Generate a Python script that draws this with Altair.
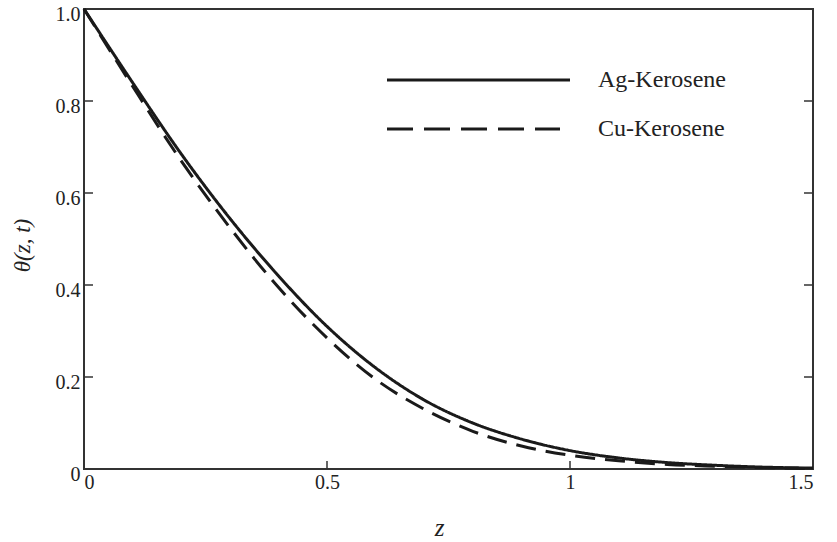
import altair as alt
import pandas as pd

# ---- data ----
z_vals = [0.0, 0.1, 0.2, 0.3, 0.4, 0.5, 0.6, 0.7, 0.8, 0.9, 1.0, 1.1, 1.2, 1.3, 1.4, 1.5]
ag_theta = [1.0, 0.84, 0.685, 0.545, 0.42, 0.31, 0.22, 0.15, 0.10, 0.065, 0.040, 0.024, 0.014, 0.008, 0.004, 0.002]
cu_theta = [1.0, 0.832, 0.67, 0.525, 0.395, 0.285, 0.195, 0.13, 0.082, 0.05, 0.030, 0.018, 0.010, 0.006, 0.003, 0.001]
series_names = ["Ag-Kerosene", "Cu-Kerosene"]
x_ticks = [0, 0.5, 1, 1.5]
y_ticks = [0, 0.2, 0.4, 0.6, 0.8, 1.0]
x_inner_ticks = [0.5, 1.0]
y_inner_ticks = [0.2, 0.4, 0.6, 0.8]

n = len(z_vals)
df = pd.DataFrame({
    "z": z_vals * 2,
    "theta": ag_theta + cu_theta,
    "series": [series_names[0]] * n + [series_names[1]] * n,
})

W, H = 729, 460
FONT = "Liberation Serif"
INK = "#1a1a1a"

xscale = alt.Scale(domain=[0, 1.5], nice=False, zero=False)
yscale = alt.Scale(domain=[0, 1.0], nice=False)

xaxis = alt.Axis(values=x_ticks, format="~g", title="z", labelFlush=True,
                 labelPadding=3, titleFontStyle="italic", titleFontSize=25,
                 titleX=355, titleY=58, titleBaseline="middle")
yaxis = alt.Axis(values=y_ticks,
                 labelExpr="datum.value == 0 ? '0' : format(datum.value, '.1f')",
                 title="θ(z, t)", labelPadding=4, labelOffset=5,
                 titleFontStyle="italic", titleFontSize=23,
                 titleX=-62, titleY=236, titleBaseline="middle", titleAngle=270)

lines = alt.Chart(df).mark_line(strokeWidth=3, color=INK, interpolate="monotone").encode(
    x=alt.X("z:Q", scale=xscale, axis=xaxis),
    y=alt.Y("theta:Q", scale=yscale, axis=yaxis),
    strokeDash=alt.StrokeDash("series:N",
                              scale=alt.Scale(domain=series_names, range=[[1, 0], [20, 10]]),
                              legend=None),
    detail="series:N",
)

# inward ticks (share the main scales and axes)
left_ticks = alt.Chart(pd.DataFrame({"theta": y_inner_ticks})).mark_rule(color="#333", strokeWidth=1.5).encode(
    y=alt.Y("theta:Q", scale=yscale, axis=yaxis), x=alt.value(0), x2=alt.value(9))
right_ticks = alt.Chart(pd.DataFrame({"theta": y_inner_ticks})).mark_rule(color="#333", strokeWidth=1.5).encode(
    y=alt.Y("theta:Q", scale=yscale, axis=yaxis), x=alt.value(W - 9), x2=alt.value(W))
bottom_ticks = alt.Chart(pd.DataFrame({"z": x_inner_ticks})).mark_rule(color="#333", strokeWidth=1.5).encode(
    x=alt.X("z:Q", scale=xscale, axis=xaxis), y=alt.value(H - 8), y2=alt.value(H))

# manual legend
leg_layers = []
leg_rows = [(series_names[0], [1, 0], 71, 486), (series_names[1], [26, 11], 120, 476)]
for name, dash, ypos, x2 in leg_rows:
    d = pd.DataFrame({"series": [name]})
    leg_layers.append(alt.Chart(d).mark_rule(color=INK, strokeWidth=3, strokeDash=dash).encode(
        x=alt.value(303), x2=alt.value(x2), y=alt.value(ypos)))
    leg_layers.append(alt.Chart(d).mark_text(font=FONT, fontSize=24, color="#222", align="left",
                                             baseline="middle").encode(
        x=alt.value(514), y=alt.value(ypos), text="series:N"))

chart = alt.layer(lines, left_ticks, right_ticks, bottom_ticks, *leg_layers).properties(
    width=W, height=H,
    autosize=alt.AutoSizeParams(type="none"),
    padding={"left": 84, "top": 9, "right": 24, "bottom": 73},
).configure_view(
    stroke="#333", strokeWidth=2
).configure_axis(
    domain=False, ticks=False, grid=False,
    labelFont=FONT, labelFontSize=20, labelColor="#222",
    titleFont=FONT, titleColor="#222", titleFontWeight="normal",
)

chart.save("out.html", embed_options={"renderer": "svg", "actions": False})
